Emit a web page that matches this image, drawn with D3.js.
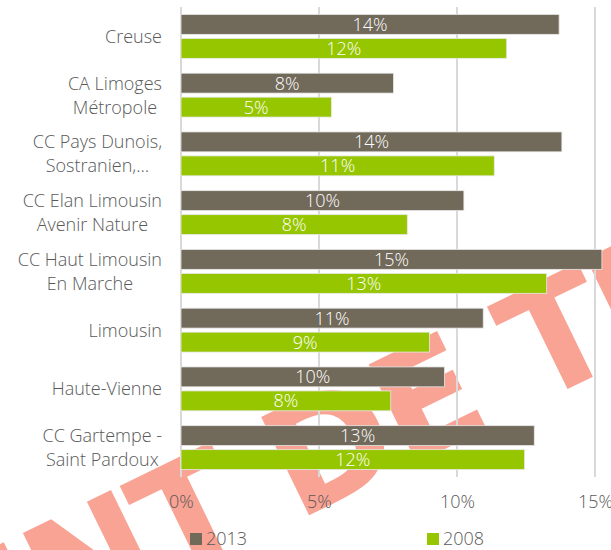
<!DOCTYPE html>
<html>
<head>
<meta charset="utf-8">
<script src="https://cdn.jsdelivr.net/npm/d3@7"></script>
<style>
  body { margin: 0; background: #fff; }
  svg { display: block; font-family: "Open Sans", Lato, sans-serif; font-weight: 300; }
</style>
</head>
<body>
<div id="chart"></div>
<script>
'use strict';

// categories, top to bottom (each entry = lines of the wrapped label)
let categories = [
    ['Creuse'],
    ['CA Limoges', 'Métropole'],
    ['CC Pays Dunois,', 'Sostranien,…'],
    ['CC Elan Limousin', 'Avenir Nature'],
    ['CC Haut Limousin', 'En Marche'],
    ['Limousin'],
    ['Haute-Vienne'],
    ['CC Gartempe -', 'Saint Pardoux']
];
let seriesNames = ['2013', '2008'];
let values2013 = [13.7, 7.7, 13.8, 10.25, 15.25, 10.95, 9.55, 12.8];
let values2008 = [11.8, 5.45, 11.35, 8.2, 13.25, 9.0, 7.6, 12.45];
let tickValues = [0, 5, 10, 15];
let colors = ['#71695a', '#96c600'];
let watermark = 'DOCUMENT DE TRAVAIL';

let width = 611, height = 550;
let fontSize = '18px';

let svg = d3.select('#chart')
    .append('svg')
    .attr('width', width)
    .attr('height', height);

// watermark behind everything, placed so the T of TRAVAIL sits where it does in the original
let wm = svg.append('g');
let wmText = wm.append('text')
    .style('font-family', '"DejaVu Sans", sans-serif')
    .style('font-weight', 'bold')
    .style('font-size', '150px')
    .style('letter-spacing', '-5px')
    .attr('fill', '#f9a394')
    .text(watermark);
let tIndex = watermark.indexOf('TRAVAIL');
let tBox = wmText.node().getExtentOfChar(tIndex);
wmText.attr('x', -(tBox.x + tBox.width / 2));
wm.attr('transform', 'translate(578,384) rotate(-26)');

let keys = categories.map(function (c, i) { return 'c' + i; });

let x = d3.scaleLinear().domain([0, 15]).range([181, 595]);
let y = d3.scaleBand().domain(keys).range([7, 477]);
let y1 = d3.scaleBand().domain(seriesNames)
    .range([0, y.bandwidth()])
    .paddingInner(0.17)
    .paddingOuter(0.31);

// gridlines
svg.append('g')
    .selectAll('line')
    .data(tickValues)
    .enter()
    .append('line')
    .attr('x1', function (d) { return x(d); })
    .attr('x2', function (d) { return x(d); })
    .attr('y1', 7)
    .attr('y2', 477)
    .attr('stroke', '#d9d9d9')
    .attr('stroke-width', 2);

// x axis labels
let xAxis = d3.axisBottom(x)
    .tickValues(tickValues)
    .tickSize(0)
    .tickPadding(0)
    .tickFormat(function (d) { return d + '%'; });

let gx = svg.append('g')
    .attr('transform', 'translate(0,495)')
    .call(xAxis);
gx.select('.domain').remove();
gx.attr('font-family', null).attr('font-size', null);
gx.selectAll('text')
    .attr('fill', '#595959')
    .style('font-size', fontSize)
    .attr('dy', '0.72em');

// bars
let rows = keys.map(function (k, i) {
    return { key: k, vals: [values2013[i], values2008[i]] };
});

let groups = svg.append('g')
    .selectAll('g')
    .data(rows)
    .enter()
    .append('g')
    .attr('transform', function (d) { return 'translate(0,' + y(d.key) + ')'; });

groups.selectAll('rect')
    .data(function (d) {
        return d.vals.map(function (v, j) { return { name: seriesNames[j], value: v, color: colors[j] }; });
    })
    .enter()
    .append('rect')
    .attr('x', x(0))
    .attr('y', function (d) { return y1(d.name); })
    .attr('width', function (d) { return x(d.value) - x(0); })
    .attr('height', y1.bandwidth())
    .attr('fill', function (d) { return d.color; })
    .attr('stroke', '#e8e8e8')
    .attr('stroke-width', 0.8);

groups.selectAll('text')
    .data(function (d) {
        return d.vals.map(function (v, j) { return { name: seriesNames[j], value: v }; });
    })
    .enter()
    .append('text')
    .attr('x', function (d) { return (x(0) + x(d.value)) / 2; })
    .attr('y', function (d) { return y1(d.name) + y1.bandwidth() / 2; })
    .attr('dy', '0.36em')
    .attr('text-anchor', 'middle')
    .attr('fill', '#fff')
    .style('font-size', fontSize)
    .text(function (d) { return Math.round(d.value) + '%'; });

// category labels: lines centred inside a right-aligned block
let labelRight = 162;
let lineGap = 24;

let labels = svg.append('g')
    .selectAll('g')
    .data(categories)
    .enter()
    .append('g')
    .attr('transform', function (d, i) { return 'translate(0,' + (y(keys[i]) + y.bandwidth() / 2) + ')'; });

labels.each(function (lines) {
    let g = d3.select(this);
    let texts = g.selectAll('text')
        .data(lines)
        .enter()
        .append('text')
        .attr('y', function (d, j) { return (j - (lines.length - 1) / 2) * lineGap; })
        .attr('dy', '0.36em')
        .attr('text-anchor', 'middle')
        .attr('fill', '#595959')
        .style('font-size', fontSize)
        .text(function (d) { return d; });
    let maxW = 0;
    texts.each(function () { maxW = Math.max(maxW, this.getComputedTextLength()); });
    texts.attr('x', labelRight - maxW / 2);
});

// legend
let legend = svg.append('g')
    .selectAll('g')
    .data(seriesNames)
    .enter()
    .append('g')
    .attr('transform', function (d, i) { return 'translate(' + [190, 427][i] + ',533)'; });

legend.append('rect')
    .attr('width', 12)
    .attr('height', 12)
    .attr('fill', function (d, i) { return colors[i]; });

legend.append('text')
    .attr('x', 16)
    .attr('y', 6)
    .attr('dy', '0.36em')
    .attr('fill', '#595959')
    .style('font-size', fontSize)
    .text(function (d) { return d; });
</script>
</body>
</html>
